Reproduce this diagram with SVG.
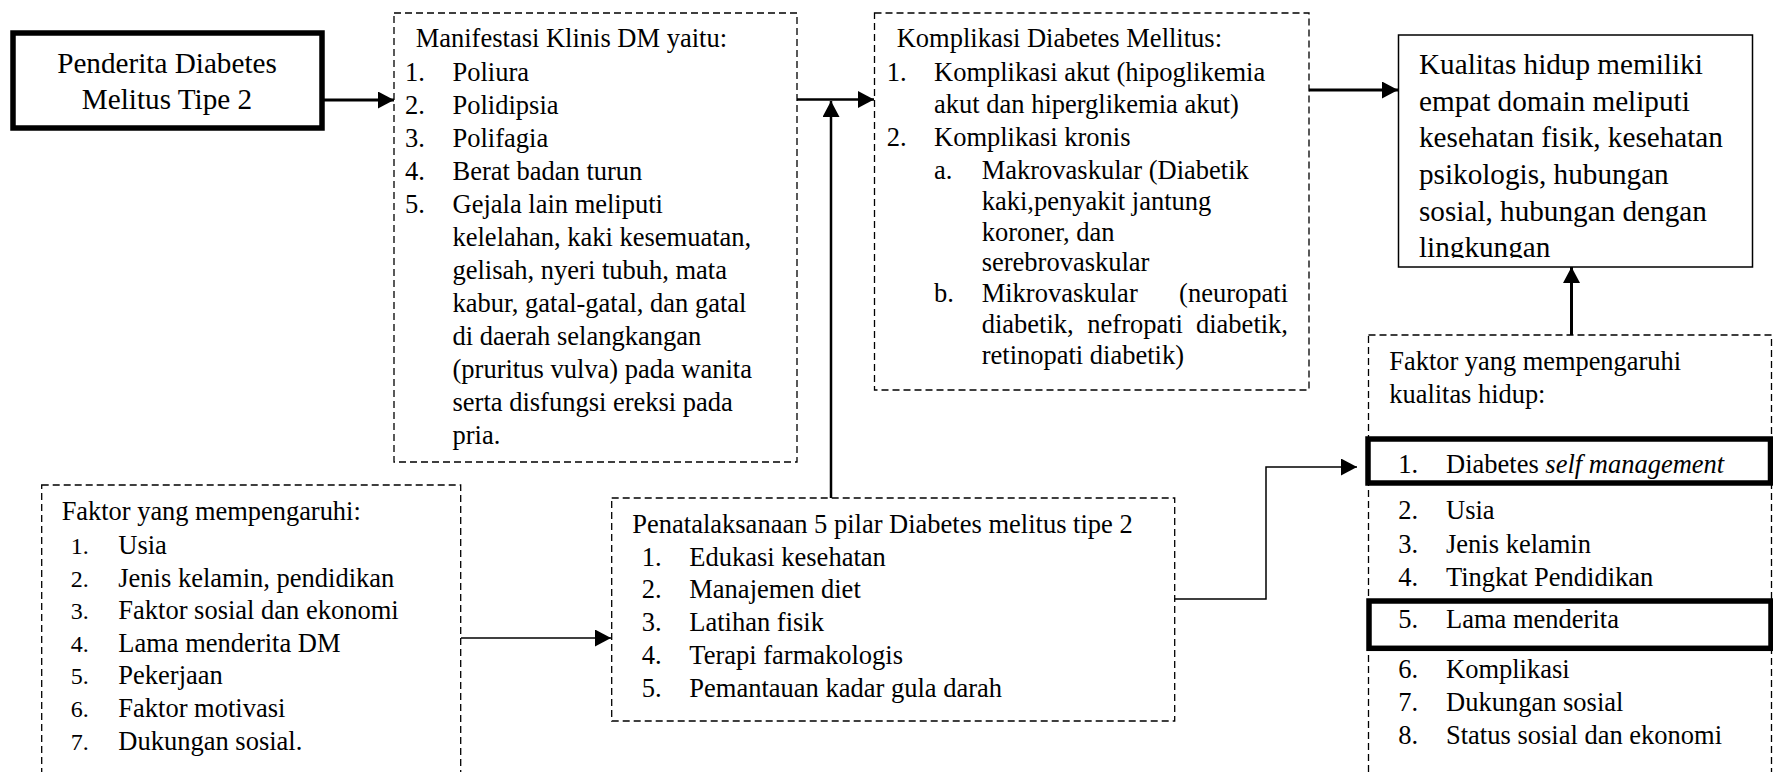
<svg xmlns="http://www.w3.org/2000/svg" width="1773" height="772" viewBox="0 0 1773 772">
<style>
  text { font-family: "Liberation Serif", "Times New Roman", serif; fill: #000; }
  .t { font-size: 26.5px; }
  .h { font-size: 26.4px; }
  .big { font-size: 29.2px; }
  .num { font-size: 24px; }
  .dash { fill: #fff; stroke: #000; stroke-width: 1.3; stroke-dasharray: 7 4; }
  .thick { fill: none; stroke: #000; stroke-width: 5.5; }
  .solid { fill: #fff; stroke: #000; stroke-width: 1.5; }
  .c { fill: none; stroke: #000; }
</style>
<defs>
  <marker id="arr" markerUnits="userSpaceOnUse" markerWidth="16" markerHeight="17" refX="16" refY="8.5" orient="auto">
    <path d="M0,0 L16,8.5 L0,17 z" fill="#000"/>
  </marker>
  <clipPath id="kclip"><rect x="1399" y="36" width="352" height="222"/></clipPath>
</defs>
<rect width="1773" height="772" fill="#fff"/>

<g id="penderita">
  <rect x="13" y="33" width="309" height="95" class="thick"/>
  <text class="big" x="167" y="72.5" text-anchor="middle">Penderita Diabetes</text>
  <text class="big" x="167" y="109" text-anchor="middle">Melitus Tipe 2</text>
</g>

<g id="manifestasi">
  <rect x="394" y="13" width="403" height="449" class="dash"/>
  <text class="t" x="415.7" y="46.7">Manifestasi Klinis DM yaitu:</text>
  <text class="t" x="405" y="80.5">1.</text><text class="t" x="452.5" y="80.5">Poliura</text>
  <text class="t" x="405" y="113.5">2.</text><text class="t" x="452.5" y="113.5">Polidipsia</text>
  <text class="t" x="405" y="146.7">3.</text><text class="t" x="452.5" y="146.7">Polifagia</text>
  <text class="t" x="405" y="179.5">4.</text><text class="t" x="452.5" y="179.5">Berat badan turun</text>
  <text class="t" x="405" y="212.7">5.</text><text class="t" x="452.5" y="212.7">Gejala lain meliputi</text>
  <text class="t" x="452.5" y="245.8">kelelahan, kaki kesemuatan,</text>
  <text class="t" x="452.5" y="279">gelisah, nyeri tubuh, mata</text>
  <text class="t" x="452.5" y="312">kabur, gatal-gatal, dan gatal</text>
  <text class="t" x="452.5" y="345">di daerah selangkangan</text>
  <text class="t" x="452.5" y="378">(pruritus vulva) pada wanita</text>
  <text class="t" x="452.5" y="411">serta disfungsi ereksi pada</text>
  <text class="t" x="452.5" y="444">pria.</text>
</g>

<g id="komplikasi">
  <rect x="874.5" y="13" width="434.5" height="377" class="dash"/>
  <text class="t" x="896.7" y="46.7">Komplikasi Diabetes Mellitus:</text>
  <text class="t" x="886.7" y="81">1.</text><text class="t" x="934" y="81">Komplikasi akut (hipoglikemia</text>
  <text class="t" x="934" y="113.3">akut dan hiperglikemia akut)</text>
  <text class="t" x="886.7" y="146">2.</text><text class="t" x="934" y="146">Komplikasi kronis</text>
  <text class="t" x="934" y="179.3">a.</text><text class="t" x="981.7" y="179.3">Makrovaskular (Diabetik</text>
  <text class="t" x="981.7" y="209.8">kaki,penyakit jantung</text>
  <text class="t" x="981.7" y="240.5">koroner, dan</text>
  <text class="t" x="981.7" y="270.8">serebrovaskular</text>
  <text class="t" x="934" y="301.7">b.</text><text class="t" x="981.7" y="301.7">Mikrovaskular</text><text class="t" x="1288" y="301.7" text-anchor="end">(neuropati</text>
  <text class="t" x="981.7" y="333.3">diabetik,</text><text class="t" x="1087.3" y="333.3">nefropati</text><text class="t" x="1288" y="333.3" text-anchor="end">diabetik,</text>
  <text class="t" x="981.7" y="363.5">retinopati diabetik)</text>
</g>

<g id="kualitas">
  <rect x="1398.5" y="35" width="354" height="232" class="solid"/>
  <g clip-path="url(#kclip)">
    <text class="big" x="1419" y="74">Kualitas hidup memiliki</text>
    <text class="big" x="1419" y="110.7">empat domain meliputi</text>
    <text class="big" x="1419" y="147.4">kesehatan fisik, kesehatan</text>
    <text class="big" x="1419" y="184">psikologis, hubungan</text>
    <text class="big" x="1419" y="220.7">sosial, hubungan dengan</text>
    <text class="big" x="1419" y="256.8">lingkungan</text>
  </g>
</g>

<g id="faktor">
  <rect x="41.7" y="485" width="419" height="320" class="dash"/>
  <text class="h" x="61.7" y="520">Faktor yang mempengaruhi:</text>
  <text class="num" x="70.7" y="554">1.</text><text class="t" x="118.3" y="554">Usia</text>
  <text class="num" x="70.7" y="586.7">2.</text><text class="t" x="118.3" y="586.7">Jenis kelamin, pendidikan</text>
  <text class="num" x="70.7" y="619">3.</text><text class="t" x="118.3" y="619">Faktor sosial dan ekonomi</text>
  <text class="num" x="70.7" y="651.7">4.</text><text class="t" x="118.3" y="651.7">Lama menderita DM</text>
  <text class="num" x="70.7" y="684">5.</text><text class="t" x="118.3" y="684">Pekerjaan</text>
  <text class="num" x="70.7" y="717">6.</text><text class="t" x="118.3" y="717">Faktor motivasi</text>
  <text class="num" x="70.7" y="750">7.</text><text class="t" x="118.3" y="750">Dukungan sosial.</text>
</g>

<g id="penatalaksanaan">
  <rect x="611.7" y="498" width="563" height="223" class="dash"/>
  <text class="t" x="632.3" y="533.3">Penatalaksanaan 5 pilar Diabetes melitus tipe 2</text>
  <text class="t" x="641.7" y="566">1.</text><text class="t" x="689.3" y="566">Edukasi kesehatan</text>
  <text class="t" x="641.7" y="598.3">2.</text><text class="t" x="689.3" y="598.3">Manajemen diet</text>
  <text class="t" x="641.7" y="630.7">3.</text><text class="t" x="689.3" y="630.7">Latihan fisik</text>
  <text class="t" x="641.7" y="664">4.</text><text class="t" x="689.3" y="664">Terapi farmakologis</text>
  <text class="t" x="641.7" y="696.7">5.</text><text class="t" x="689.3" y="696.7">Pemantauan kadar gula darah</text>
</g>

<g id="faktor-kualitas">
  <rect x="1368.5" y="335" width="403" height="470" class="dash"/>
  <text class="h" x="1389.3" y="370">Faktor yang mempengaruhi</text>
  <text class="h" x="1389.3" y="402.7">kualitas hidup:</text>
  <rect x="1368" y="439" width="402.5" height="44" class="thick"/>
  <text class="t" x="1398.3" y="473.3">1.</text><text class="t" x="1446" y="473.3">Diabetes <tspan font-style="italic">self management</tspan></text>
  <text class="t" x="1398.3" y="519.3">2.</text><text class="t" x="1446" y="519.3">Usia</text>
  <text class="t" x="1398.3" y="552.7">3.</text><text class="t" x="1446" y="552.7">Jenis kelamin</text>
  <text class="t" x="1398.3" y="586">4.</text><text class="t" x="1446" y="586">Tingkat Pendidikan</text>
  <rect x="1369" y="601" width="402" height="47.3" class="thick"/>
  <text class="t" x="1398.3" y="628.3">5.</text><text class="t" x="1446" y="628.3">Lama menderita</text>
  <text class="t" x="1398.3" y="678.3">6.</text><text class="t" x="1446" y="678.3">Komplikasi</text>
  <text class="t" x="1398.3" y="710.7">7.</text><text class="t" x="1446" y="710.7">Dukungan sosial</text>
  <text class="t" x="1398.3" y="744">8.</text><text class="t" x="1446" y="744">Status sosial dan ekonomi</text>
</g>

<g id="connectors">
  <line x1="322" y1="100" x2="394" y2="100" class="c" stroke-width="3" marker-end="url(#arr)"/>
  <line x1="797" y1="99.5" x2="874" y2="99.5" class="c" stroke-width="2.5" marker-end="url(#arr)"/>
  <line x1="831" y1="498" x2="831" y2="101" class="c" stroke-width="2.5" marker-end="url(#arr)"/>
  <line x1="1309" y1="90" x2="1398" y2="90" class="c" stroke-width="3" marker-end="url(#arr)"/>
  <line x1="1571.5" y1="335" x2="1571.5" y2="267" class="c" stroke-width="3" marker-end="url(#arr)"/>
  <line x1="461" y1="638" x2="611" y2="638" class="c" stroke-width="1.5" marker-end="url(#arr)"/>
  <polyline points="1174.5,599 1266,599 1266,467 1357,467" class="c" stroke-width="1.5" marker-end="url(#arr)"/>
</g>
</svg>
